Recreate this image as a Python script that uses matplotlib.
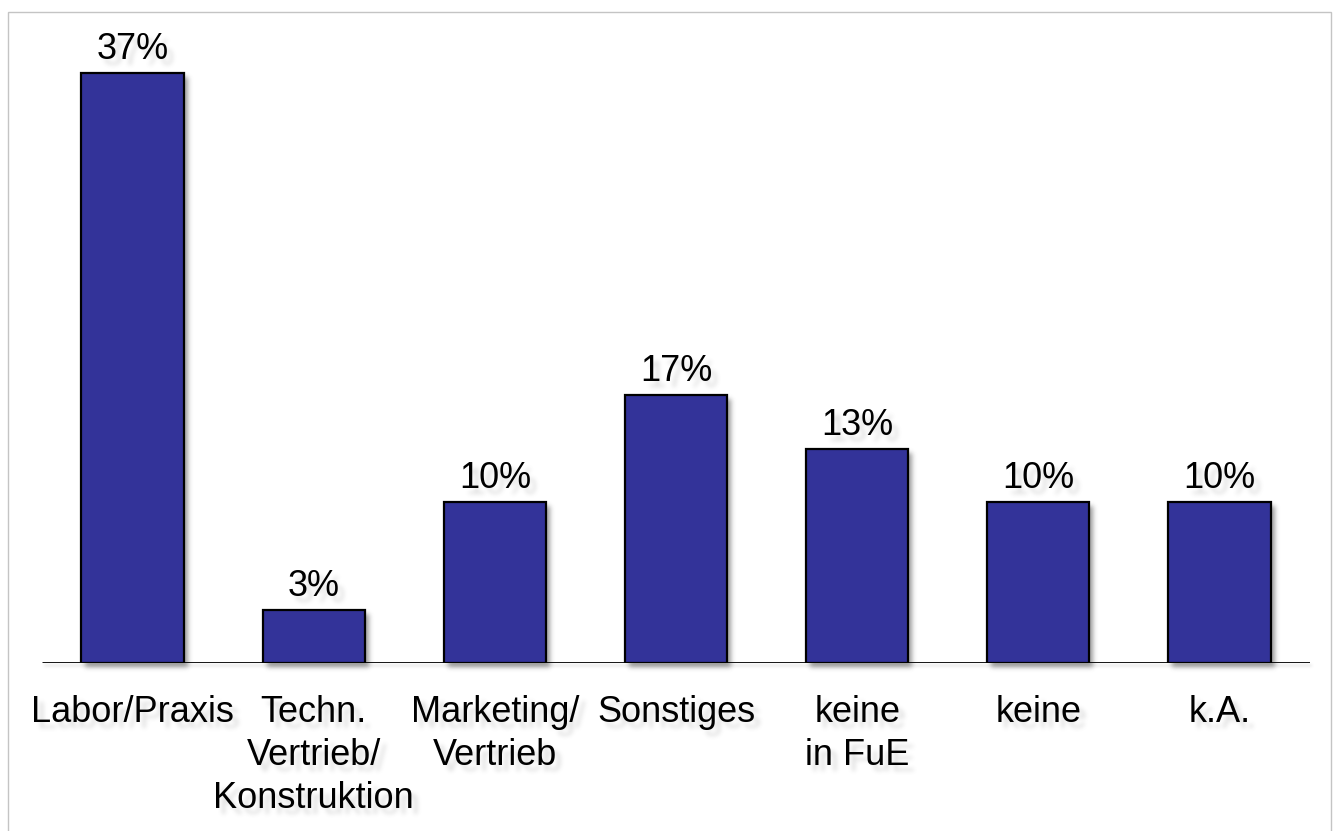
import numpy as np
import matplotlib
matplotlib.use("Agg")
import matplotlib.pyplot as plt
from matplotlib.patches import Rectangle

# Survey shares (percent of respondents)
categories = ["Labor/Praxis", "Techn.\nVertrieb/\nKonstruktion", "Marketing/\nVertrieb",
              "Sonstiges", "keine\nin FuE", "keine", "k.A."]
shares = [36.7, 3.3, 10.0, 16.7, 13.3, 10.0, 10.0]

BAR_COLOR = "#333399"
FONT = "Liberation Sans"
W, H, DPI = 1338, 831, 100


class SoftShadow:
    """agg filter: blurred, offset copy of an artist's alpha as a grey shadow."""

    def __init__(self, sigma=2.5, alpha=0.55, dx=3, dy=3, color=(0.35, 0.35, 0.35)):
        self.sigma, self.alpha, self.dx, self.dy, self.color = sigma, alpha, dx, dy, color

    def __call__(self, im, dpi):
        pad = int(3 * self.sigma + max(abs(self.dx), abs(self.dy))) + 2
        a = np.pad(im[..., 3], pad)
        r = int(3 * self.sigma)
        x = np.arange(-r, r + 1)
        k = np.exp(-0.5 * (x / self.sigma) ** 2)
        k /= k.sum()
        a = np.apply_along_axis(lambda v: np.convolve(v, k, mode="same"), 1, a)
        a = np.apply_along_axis(lambda v: np.convolve(v, k, mode="same"), 0, a)
        a = np.roll(a, self.dx, axis=1)
        a = np.roll(a, self.dy, axis=0)
        out = np.zeros(a.shape + (4,))
        out[..., :3] = self.color
        out[..., 3] = np.clip(a * self.alpha, 0, 1)
        return out, -pad, -pad


fig = plt.figure(figsize=(W / DPI, H / DPI), dpi=DPI)
fig.patch.set_facecolor("white")

# thin outer frame
fig.patches.append(Rectangle((8 / W, -0.1), (1331 - 8) / W, (H - 12) / H + 0.1,
                             transform=fig.transFigure, fill=False,
                             edgecolor="#c4c4c4", lw=1.0))

ax = fig.add_axes([42 / W, 1 - 663 / H, (1310 - 42) / W, (663 - 20) / H])
ax.set_xlim(-0.5, len(categories) - 0.5)
ax.set_ylim(0, 40)
ax.axis("off")

x = np.arange(len(categories))
bar_w = 0.565

# shadows for bars and baseline
ax.bar(x, shares, width=bar_w, color="k", zorder=1,
       agg_filter=SoftShadow(sigma=2.5, alpha=0.6, dx=4, dy=4))
ax.plot([-0.5, len(categories) - 0.5], [0, 0], color="k", lw=2, zorder=1,
        agg_filter=SoftShadow(sigma=1.5, alpha=0.35, dx=2, dy=3))

ax.bar(x, shares, width=bar_w, color=BAR_COLOR, edgecolor="black", linewidth=1.6, zorder=3)
ax.plot([-0.5, len(categories) - 0.5], [0, 0], color="black", lw=2.0, zorder=4,
        solid_capstyle="butt")

txt_shadow = SoftShadow(sigma=1.6, alpha=0.45, dx=3, dy=3)


def shadow_text(xy, off, s):
    kw = dict(xy=xy, xytext=off, textcoords="offset points", ha="center", va="baseline",
              fontsize=26, family=FONT, annotation_clip=False)
    ax.annotate(s, color="k", zorder=2, agg_filter=txt_shadow, **kw)
    ax.annotate(s, color="black", zorder=5, **kw)


# value labels above the bars
for xi, v in zip(x, shares):
    shadow_text((xi, v), (0, 10), f"{v:.0f}%")

# category labels, one text per line, centred under each bar
first_line = -42.5   # points below the baseline
line_step = 31.0     # points between lines
for xi, lab in zip(x, categories):
    for j, line in enumerate(lab.split("\n")):
        shadow_text((xi, 0), (0, first_line - j * line_step), line)

fig.savefig("out.png", dpi=DPI)
